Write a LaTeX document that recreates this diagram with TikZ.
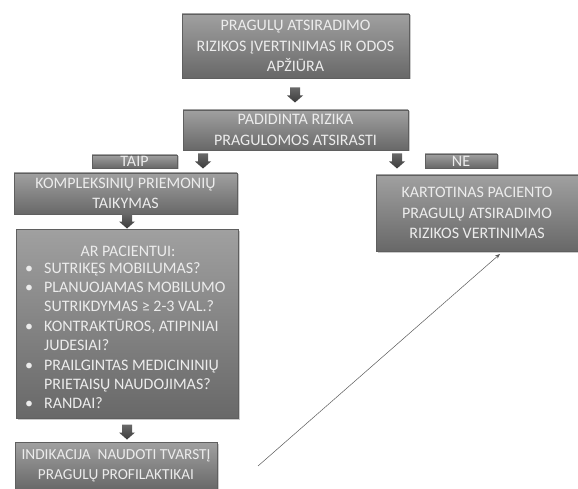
\documentclass[tikz,border=0pt]{standalone}
\usepackage{fontspec}
\setmainfont{Carlito}
\usetikzlibrary{shadows,arrows.meta}
\definecolor{boxtop}{RGB}{160,160,160}
\definecolor{boxbot}{RGB}{104,104,104}
\definecolor{boxline}{RGB}{95,95,95}
\definecolor{boxtext}{RGB}{236,236,236}
\definecolor{arrdark}{RGB}{60,60,60}
\definecolor{arrlight}{RGB}{105,105,105}
\definecolor{linecol}{RGB}{90,90,90}
\tikzset{
  flowbox/.style={draw=boxline, line width=0.5pt, top color=boxtop, bottom color=boxbot,
    drop shadow={shadow xshift=1.5pt, shadow yshift=-1.5pt, fill=black!35, opacity=0.6},
    text=boxtext, align=center, inner sep=0pt, font=\fontsize{16}{20.5}\selectfont},
  tagbox/.style={flowbox, font=\fontsize{16}{16}\selectfont},
  plain/.style={text=boxtext, inner sep=0pt, font=\fontsize{16}{19.5}\selectfont},
  listtext/.style={text=boxtext, inner sep=0pt, font=\fontsize{16}{19.4}\selectfont},
  thinarrow/.style={draw=linecol, line width=0.5pt, -{Stealth[length=5pt,width=4pt]}},
  pics/blockarrow/.style={code={
    \shade[top color=arrlight, bottom color=arrdark]
      (-5,-7.5) -- (5,-7.5) -- (5,0.5) -- (8,0.5) -- (0,7.5) -- (-8,0.5) -- (-5,0.5) -- cycle;
  }}
}
\newcommand{\bul}{\makebox[19pt][l]{•}}
\newcommand{\ind}{\hspace*{19pt}}
\begin{document}
\begin{tikzpicture}[x=1pt,y=-1pt]
\useasboundingbox (0,0) rectangle (578,489);
\node[flowbox, minimum width=227pt, minimum height=64pt] (risk) at (295.5,46)
  {PRAGULŲ ATSIRADIMO\\RIZIKOS ĮVERTINIMAS IR ODOS\\APŽIŪRA};
\pic (a1) at (295,95) {blockarrow};
\node[flowbox, minimum width=225pt, minimum height=40pt] (high) at (295.5,130)
  {PADIDINTA RIZIKA\\PRAGULOMOS ATSIRASTI};
\pic (a2) at (203,161) {blockarrow};
\pic (a3) at (397,161) {blockarrow};
\node[tagbox, minimum width=85pt, minimum height=13pt] (taip) at (134.5,161.5) {TAIP};
\node[tagbox, minimum width=72pt, minimum height=14pt] (ne) at (461,161) {NE};
\node[flowbox, minimum width=223pt, minimum height=41pt] (komp) at (125.5,193.5)
  {KOMPLEKSINIŲ PRIEMONIŲ\\TAIKYMAS};
\pic (a4) at (127,221) {blockarrow};
\node[flowbox, minimum width=222pt, minimum height=189pt] (ar) at (127,324) {};
\node[plain] (arh) at (128,251) {AR PACIENTUI:};
\node[listtext, anchor=north west, align=left] (arl) at (25,262)
  {\bul SUTRIKĘS MOBILUMAS?\\
   \bul PLANUOJAMAS MOBILUMO\\
   \ind SUTRIKDYMAS ≥ 2-3 VAL.?\\
   \bul KONTRAKTŪROS, ATIPINIAI\\
   \ind JUDESIAI?\\
   \bul PRAILGINTAS MEDICININIŲ\\
   \ind PRIETAISŲ NAUDOJIMAS?\\
   \bul RANDAI?};
\pic (a5) at (127,432) {blockarrow};
\node[flowbox, minimum width=202pt, minimum height=47pt, font=\fontsize{15.3}{20}\selectfont] (ind) at (116,466)
  {INDIKACIJA\ \ NAUDOTI TVARSTĮ\\PRAGULŲ PROFILAKTIKAI};
\node[flowbox, minimum width=202pt, minimum height=76pt] (kart) at (477,213)
  {KARTOTINAS PACIENTO\\PRAGULŲ ATSIRADIMO\\RIZIKOS VERTINIMAS};
\coordinate (ls) at (258,466);
\coordinate (le) at (500,254);
\draw[thinarrow] (ls) -- (le);
\end{tikzpicture}
\end{document}
